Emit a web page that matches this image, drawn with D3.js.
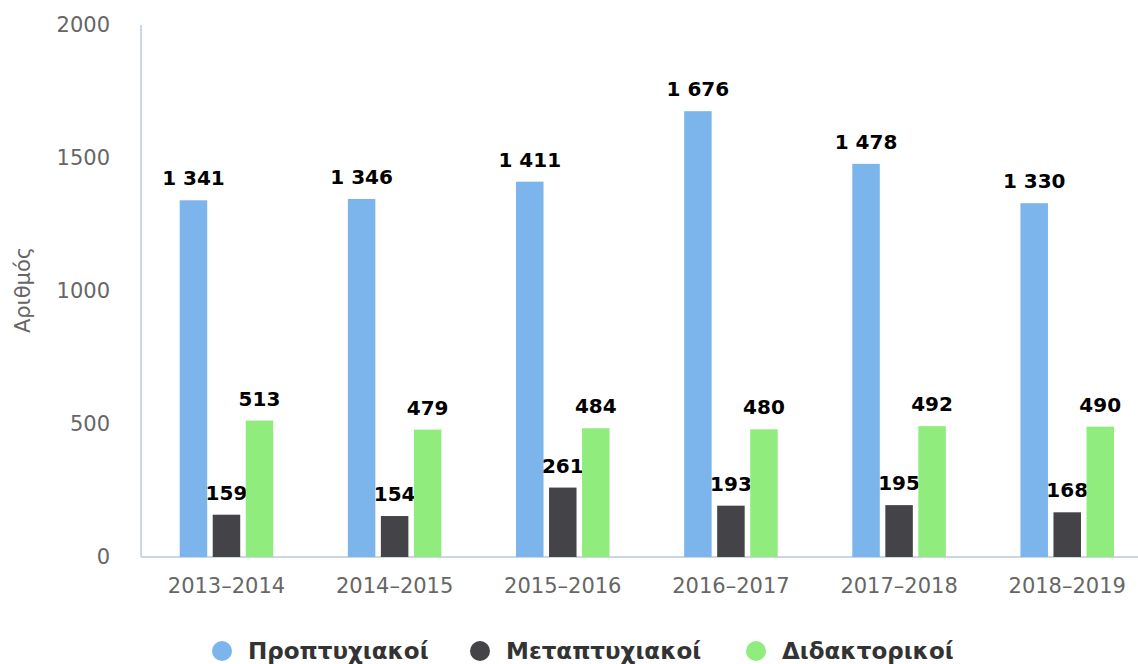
<!doctype html>
<meta charset="utf-8" />
<style>
    body {
        margin: 0;
        background: #fff;
    }
    text {
        font-family: "DejaVu Sans", Verdana, sans-serif;
    }
</style>
<svg></svg>

<script src="https://cdn.jsdelivr.net/npm/d3@7/dist/d3.min.js"></script>
<script>
    var years = ['2013–2014', '2014–2015', '2015–2016', '2016–2017', '2017–2018', '2018–2019']
    var series = ['Προπτυχιακοί', 'Μεταπτυχιακοί', 'Διδακτορικοί']
    var colors = ['#7cb5ec', '#434348', '#90ed7d']
    var undergrad = [1341, 1346, 1411, 1676, 1478, 1330]
    var postgrad = [159, 154, 261, 193, 195, 168]
    var doctoral = [513, 479, 484, 480, 492, 490]
    var yTicks = [0, 500, 1000, 1500, 2000]

    var values = [undergrad, postgrad, doctoral]

    var W = 1138, H = 664
    var plotLeft = 142.4, plotRight = 1151.3, plotTop = 25, plotBottom = 557

    var svg = d3.select('svg')
        .attr('width', W)
        .attr('height', H)

    var x = d3.scaleBand()
        .domain(years)
        .range([plotLeft, plotRight])

    var xs = d3.scaleBand()
        .domain(series)
        .range([0, x.bandwidth()])
        .paddingInner(0.167)
        .paddingOuter(1.13)

    var y = d3.scaleLinear()
        .domain([0, 2000])
        .range([plotBottom, plotTop])

    // axis lines
    svg.append('line')
        .attr('x1', 141).attr('x2', 141)
        .attr('y1', y(2000)).attr('y2', plotBottom)
        .style('stroke', '#ccd6eb')
        .style('stroke-width', 2)

    svg.append('line')
        .attr('x1', 141).attr('x2', W)
        .attr('y1', plotBottom).attr('y2', plotBottom)
        .style('stroke', '#ccd6eb')
        .style('stroke-width', 2)

    // y axis labels
    var yAxis = svg.append('g')
        .attr('transform', 'translate(110,0)')
        .call(d3.axisLeft(y).tickValues(yTicks).tickSize(0).tickPadding(0).tickFormat(d3.format('d')))
    yAxis.select('.domain').remove()
    yAxis.selectAll('text')
        .style('font-family', '"DejaVu Sans", Verdana, sans-serif')
        .style('font-size', '21px')
        .style('fill', '#666')

    // x axis labels
    var xAxis = svg.append('g')
        .attr('transform', 'translate(0,' + plotBottom + ')')
        .call(d3.axisBottom(x).tickSize(0).tickPadding(21))
    xAxis.select('.domain').remove()
    xAxis.selectAll('text')
        .style('font-family', '"DejaVu Sans", Verdana, sans-serif')
        .style('font-size', '21px')
        .style('fill', '#666')

    // y title
    svg.append('text')
        .attr('transform', 'translate(30,290) rotate(-90)')
        .attr('text-anchor', 'middle')
        .style('font-size', '21px')
        .style('fill', '#666')
        .text('Αριθμός')

    var fmt = function (v) {
        return d3.format(',')(v).replace(/,/g, ' ')
    }

    // bars
    series.forEach(function (s, si) {
        var g = svg.append('g')
        g.selectAll('rect')
            .data(values[si])
            .join('rect')
            .attr('x', function (d, i) { return x(years[i]) + xs(s) })
            .attr('y', function (d) { return y(d) })
            .attr('width', xs.bandwidth())
            .attr('height', function (d) { return plotBottom - y(d) })
            .style('fill', colors[si])

        g.selectAll('text')
            .data(values[si])
            .join('text')
            .attr('x', function (d, i) { return x(years[i]) + xs(s) + xs.bandwidth() / 2 })
            .attr('y', function (d) { return y(d) - 15 })
            .attr('text-anchor', 'middle')
            .style('font-size', '20px')
            .style('font-weight', 'bold')
            .style('fill', '#000')
            .text(fmt)
    })

    // legend
    var legendX = [222, 480, 756]
    var legend = svg.append('g')
    series.forEach(function (s, si) {
        legend.append('circle')
            .attr('cx', legendX[si])
            .attr('cy', 651)
            .attr('r', 10)
            .style('fill', colors[si])
        legend.append('text')
            .attr('x', legendX[si] + 26)
            .attr('y', 659)
            .style('font-size', '23px')
            .style('font-weight', 'bold')
            .style('fill', '#333')
            .text(s)
    })
</script>
